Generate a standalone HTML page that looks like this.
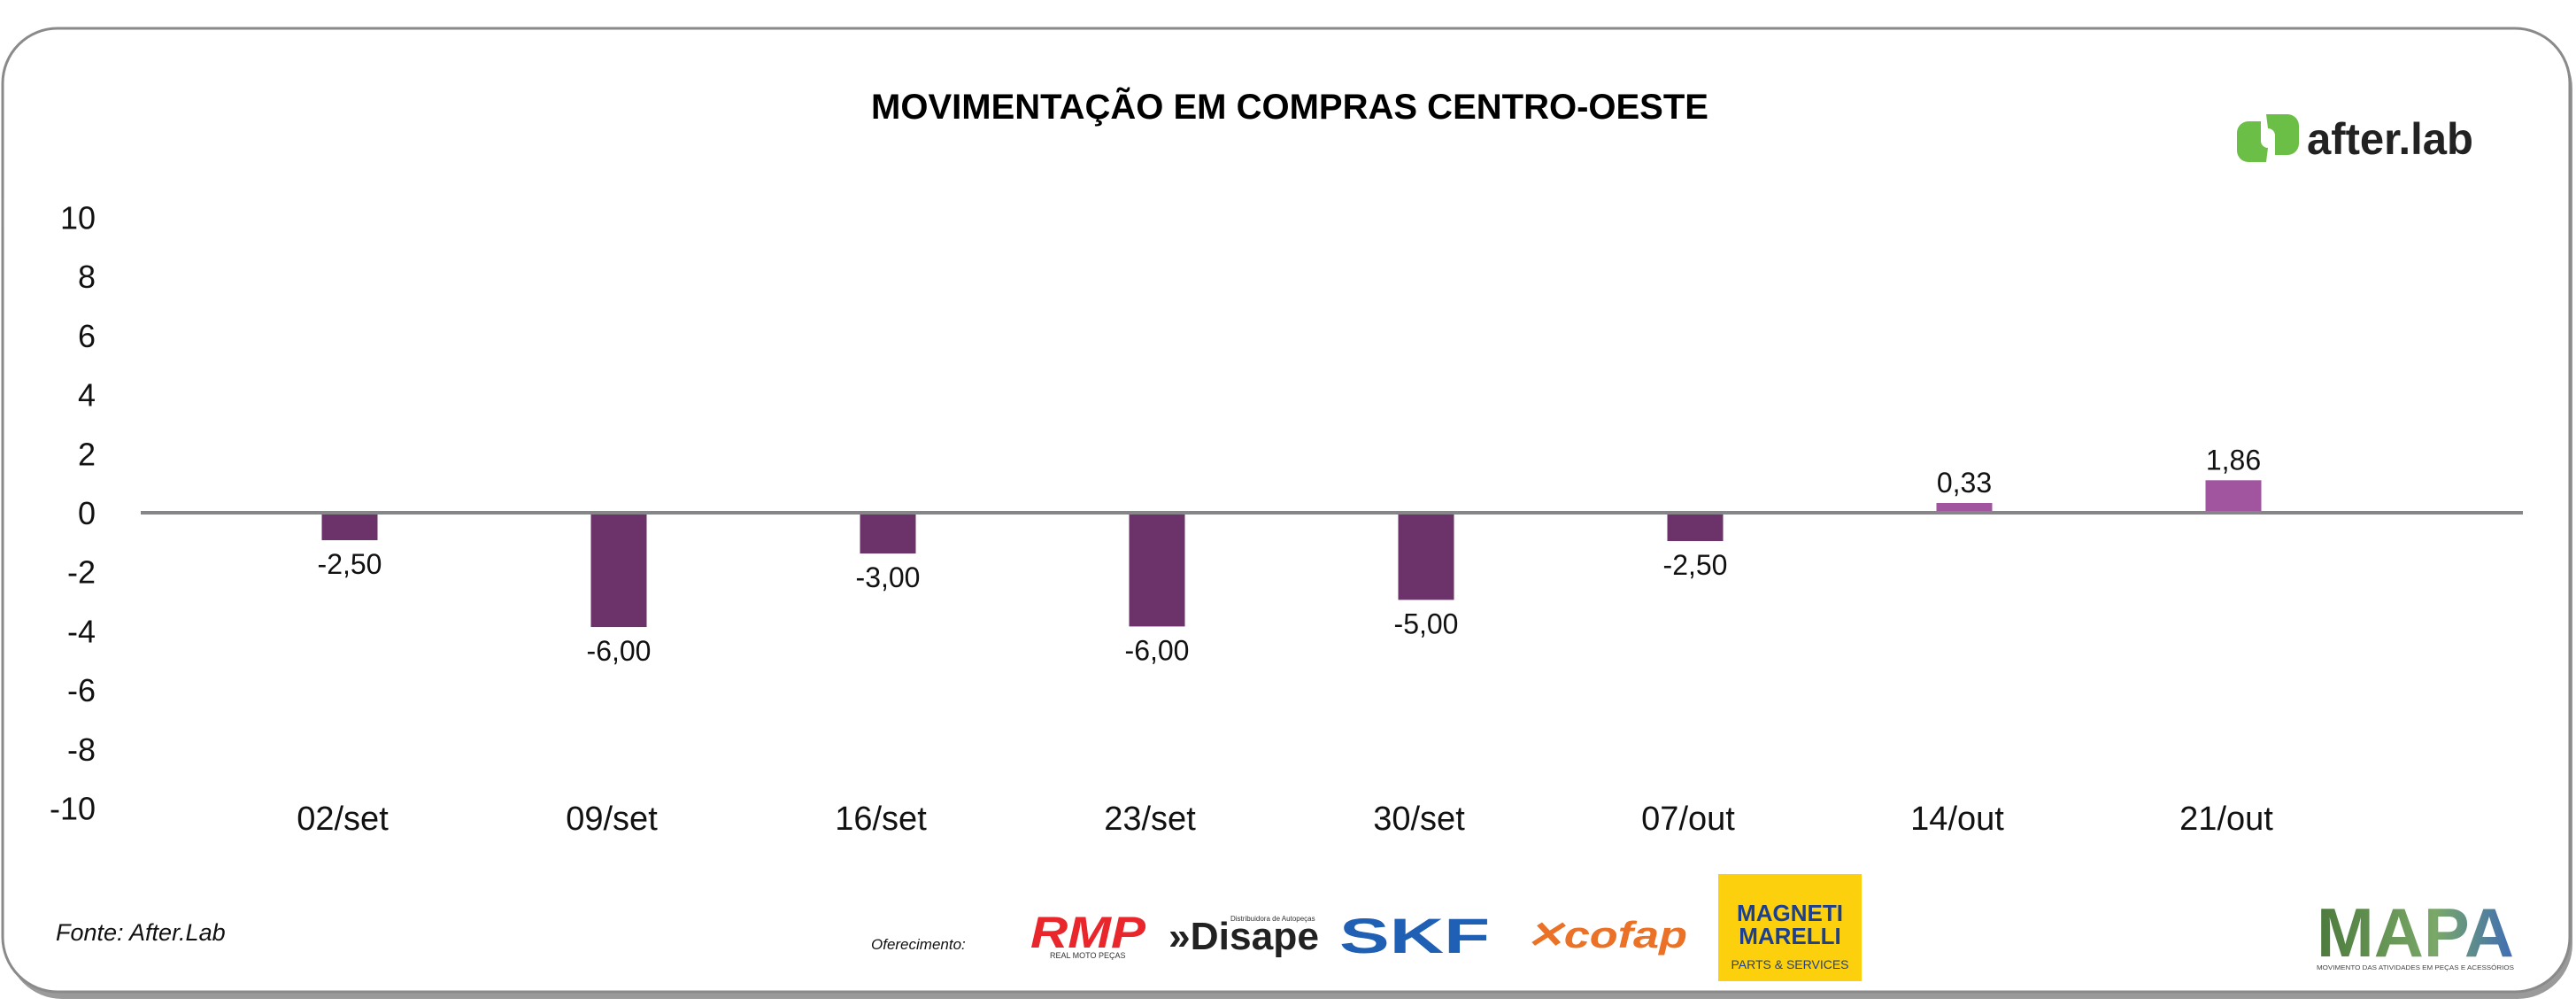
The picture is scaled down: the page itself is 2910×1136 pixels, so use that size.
<!DOCTYPE html>
<html><head><meta charset="utf-8"><style>
html,body{margin:0;padding:0;background:#fff;}
body{width:2910px;height:1131px;overflow:hidden;font-family:"Liberation Sans",sans-serif;}
</style></head><body>
<svg width="2910" height="1131" viewBox="0 0 2910 1131" xmlns="http://www.w3.org/2000/svg" font-family="Liberation Sans, sans-serif">
  <rect x="8" y="38" width="2898" height="1090" rx="62" fill="#9a9a9a"/>
  <rect x="3" y="32" width="2900" height="1088" rx="62" fill="#fff" stroke="#8a8a8a" stroke-width="3"/>
  <text x="1457" y="134" text-anchor="middle" font-size="40" font-weight="bold" fill="#000">MOVIMENTAÇÃO EM COMPRAS CENTRO-OESTE</text>
  <g>
    <path d="M2560 129 h24 a13 13 0 0 1 13 13 v20 a13 13 0 0 1 -13 13 h-14 v-22 a8 8 0 0 0 -8 -8 z" fill="#6cbf46"/>
    <path d="M2560 183 h-20 a13 13 0 0 1 -13 -13 v-20 a13 13 0 0 1 13 -13 h14 v22 a8 8 0 0 0 8 8 z" fill="#6cbf46"/>
    <text x="2606" y="174" font-size="50" font-weight="bold" fill="#222" textLength="188" lengthAdjust="spacingAndGlyphs">after.lab</text>
  </g>
  <g id="plot"></g>
  <text x="63" y="1062" font-size="27" font-style="italic" fill="#111">Fonte: After.Lab</text>
  <text x="984" y="1072" font-size="17" font-style="italic" fill="#111">Oferecimento:</text>
  <g>
    <text x="1164" y="1070" font-size="50" font-weight="bold" font-style="italic" fill="#e8262c" textLength="130" lengthAdjust="spacingAndGlyphs">RMP</text>
    <text x="1186" y="1082" font-size="9" fill="#333">REAL MOTO PEÇAS</text>
  </g>
  <g>
    <text x="1320" y="1072" font-size="44" font-weight="bold" fill="#222" textLength="170" lengthAdjust="spacingAndGlyphs">»Disape</text>
    <text x="1390" y="1040" font-size="8" fill="#333">Distribuidora de Autopeças</text>
  </g>
  <text x="1513" y="1076" font-size="56" font-weight="bold" fill="#1f5fb4" textLength="170" lengthAdjust="spacingAndGlyphs">SKF</text>
  <text x="1723" y="1070" font-size="42" font-weight="bold" font-style="italic" fill="#ea7125" textLength="183" lengthAdjust="spacingAndGlyphs">✕cofap</text>
  <g>
    <rect x="1941" y="987" width="162" height="121" fill="#fcd00c"/>
    <text x="2022" y="1040" text-anchor="middle" font-size="26" font-weight="bold" fill="#1d3f8f">MAGNETI</text>
    <text x="2022" y="1066" text-anchor="middle" font-size="26" font-weight="bold" fill="#1d3f8f">MARELLI</text>
    <text x="2022" y="1094" text-anchor="middle" font-size="14" fill="#1d3f8f">PARTS &amp; SERVICES</text>
  </g>
  <defs><linearGradient id="mapag" x1="0" x2="1"><stop offset="0" stop-color="#4b7a3c"/><stop offset="0.6" stop-color="#7aa868"/><stop offset="1" stop-color="#3f6db5"/></linearGradient></defs>
  <g>
    <text x="2617" y="1080" font-size="78" font-weight="bold" fill="url(#mapag)" textLength="223" lengthAdjust="spacingAndGlyphs">MAPA</text>
    <text x="2617" y="1095" font-size="7" fill="#444" textLength="223" lengthAdjust="spacingAndGlyphs">MOVIMENTO DAS ATIVIDADES EM PEÇAS E ACESSÓRIOS</text>
  </g>
</svg>
<script>
const categories = ["02/set","09/set","16/set","23/set","30/set","07/out","14/out","21/out"];
const barValues = [-0.93, -3.87, -1.38, -3.85, -2.95, -0.96, 0.33, 1.1];
const valueLabels = ["-2,50","-6,00","-3,00","-6,00","-5,00","-2,50","0,33","1,86"];
const yTicks = [10, 8, 6, 4, 2, 0, -2, -4, -6, -8, -10];

const NS = "http://www.w3.org/2000/svg";
const plot = document.getElementById("plot");
const y = v => 579 - v * 33.35;
const x = i => 395 + i * 304;
const barW = 63;
function mk(tag, attrs, txt){const e=document.createElementNS(NS,tag);for(const k in attrs)e.setAttribute(k,attrs[k]);if(txt!==undefined)e.textContent=txt;plot.appendChild(e);return e;}

yTicks.forEach(t=>{
  const e = mk("text",{x:108,y:y(t)+13,"text-anchor":"end","font-size":36,fill:"#111"},String(t));
  
  
});
categories.forEach((c,i)=>{
  const v = barValues[i];
  const b = mk("rect",{x:x(i)-barW/2,y:Math.min(y(v),y(0)),width:barW,height:Math.abs(y(v)-y(0)),fill:v<0?"#6c336b":"#a2559f"});
  
  
  const ly = v<0 ? y(v)+38 : y(v)-12;
  const l = mk("text",{x:x(i),y:ly,"text-anchor":"middle","font-size":32,fill:"#111"},valueLabels[i]);
  
  
  const xl = mk("text",{x:x(i)-8,y:937,"text-anchor":"middle","font-size":38,fill:"#111"},c);
  
  
});
const ax = mk("line",{x1:159,x2:2850,y1:y(0),y2:y(0),stroke:"#86868a","stroke-width":4});


</script>
</body></html>
